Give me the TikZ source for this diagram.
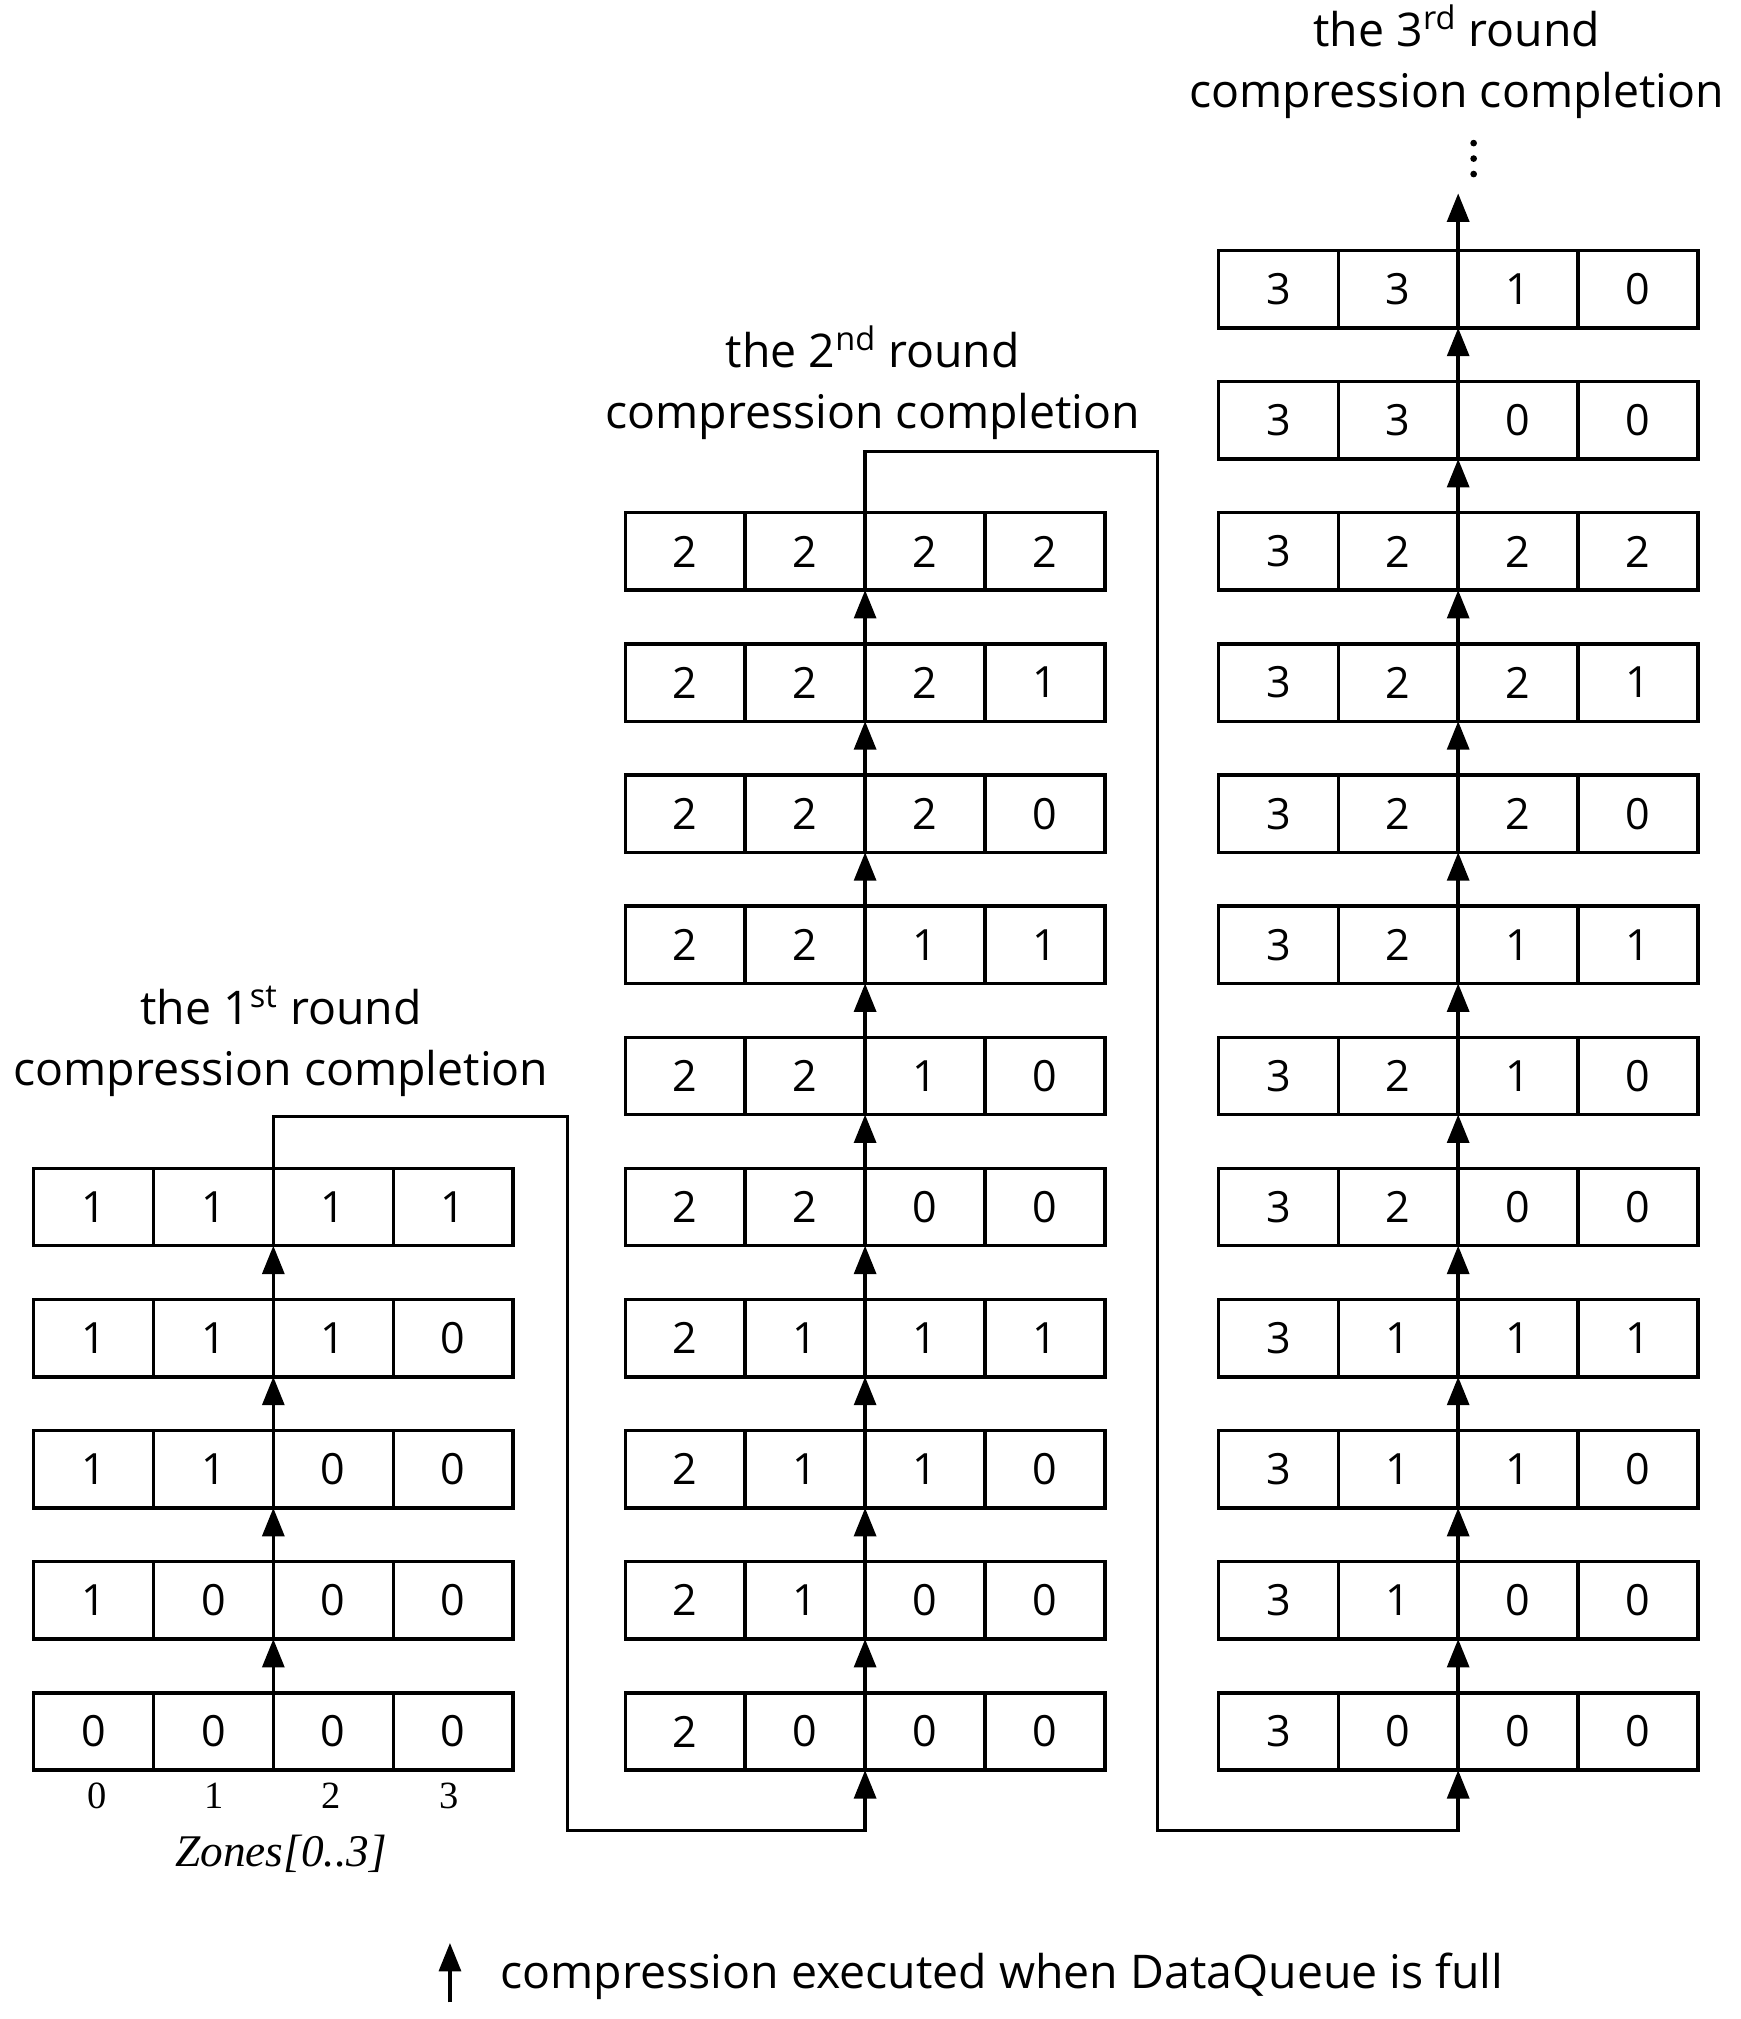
\documentclass[tikz,border=0pt]{standalone}
\usepackage{fontspec}
\setmainfont{Open Sans}
\newfontfamily\serifz{Liberation Serif}
\usetikzlibrary{arrows.meta}
\begin{document}
\begin{tikzpicture}[x=0.02cm,y=-0.02cm,
  cell/.style={draw,line width=1.5pt,minimum width=1.86cm,minimum height=1.2cm,inner sep=0pt,outer sep=0pt,anchor=north west,font=\fontsize{19}{22}\selectfont},
  ln/.style={line width=1.5pt},
  arr/.style={line width=1.5pt,-{Triangle[length=0.44cm,width=0.34cm]}},
  ttl/.style={align=center,font=\fontsize{20.5}{27}\selectfont}]
\useasboundingbox (0,0) rectangle (1350,1566);
% column 1
\foreach \j/\a/\b/\c/\d in {0/0/0/0/0,1/1/0/0/0,2/1/1/0/0,3/1/1/1/0,4/1/1/1/1}{
  \foreach \v [count=\k from 0] in {\a,\b,\c,\d}
    \node[cell] (A\j-\k) at ({26+93*\k},{1313-101.7*\j}) {\v};
}
% column 2
\foreach \j/\a/\b/\c/\d in {0/2/0/0/0,1/2/1/0/0,2/2/1/1/0,3/2/1/1/1,4/2/2/0/0,5/2/2/1/0,6/2/2/1/1,7/2/2/2/0,8/2/2/2/1,9/2/2/2/2}{
  \foreach \v [count=\k from 0] in {\a,\b,\c,\d}
    \node[cell] (B\j-\k) at ({485+93*\k},{1313-101.7*\j}) {\v};
}
% column 3
\foreach \j/\a/\b/\c/\d in {0/3/0/0/0,1/3/1/0/0,2/3/1/1/0,3/3/1/1/1,4/3/2/0/0,5/3/2/1/0,6/3/2/1/1,7/3/2/2/0,8/3/2/2/1,9/3/2/2/2,10/3/3/0/0,11/3/3/1/0}{
  \foreach \v [count=\k from 0] in {\a,\b,\c,\d}
    \node[cell] (C\j-\k) at ({945+93*\k},{1313-101.7*\j}) {\v};
}
% arrows within columns
\foreach \j [evaluate=\j as \n using int(\j+1)] in {0,...,3}
  \draw[arr] (A\j-2.north west) -- (A\n-2.south west);
\foreach \j [evaluate=\j as \n using int(\j+1)] in {0,...,8}
  \draw[arr] (B\j-2.north west) -- (B\n-2.south west);
\foreach \j [evaluate=\j as \n using int(\j+1)] in {0,...,10}
  \draw[arr] (C\j-2.north west) -- (C\n-2.south west);
% connectors between columns
\coordinate (k1a) at (440,866);
\coordinate (k1b) at (440,1420);
\coordinate (k2a) at (898,350);
\coordinate (k2b) at (898,1420);
\draw[arr] (A4-2.north west) |- (k1a) -- (k1b) -| (B0-2.south west);
\draw[arr] (B9-2.north west) |- (k2a) -- (k2b) -| (C0-2.south west);
\coordinate (top3) at (1133,150);
\draw[arr] (C11-2.north west) -- (C11-2.north west |- top3);
\foreach \yy in {111,123,135} \fill (1143,\yy) circle (2.6);
% titles
\node[ttl] (t1) at (218,808) {the 1\textsuperscript{st} round\\compression completion};
\node[ttl] (t2) at (677,297) {the 2\textsuperscript{nd} round\\compression completion};
\node[ttl] (t3) at (1130,48) {the 3\textsuperscript{rd} round\\compression completion};
% zone labels
\foreach \v [count=\k from 0] in {0,1,2,3}
  \node[font=\serifz\fontsize{17}{20}\selectfont] (z\k) at ({75+91*\k},1393) {\v};
\node[font=\serifz\itshape\fontsize{20}{24}\selectfont] (zn) at (218,1438) {Zones[0..3]};
% legend
\coordinate (lg1) at (349,1553);
\coordinate (lg2) at (349,1507);
\draw[arr] (lg1) -- (lg2);
\node[anchor=west,font=\fontsize{20.5}{25}\selectfont] (lgt) at (382,1533) {compression executed when DataQueue is full};
\end{tikzpicture}
\end{document}
